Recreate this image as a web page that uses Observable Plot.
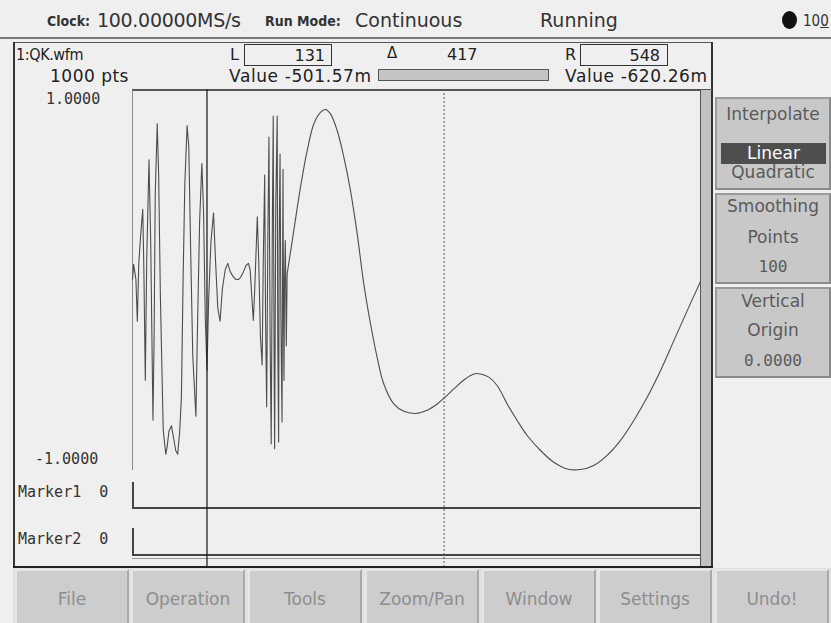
<!DOCTYPE html>
<html><head><meta charset="utf-8">
<script src="https://cdn.jsdelivr.net/npm/d3@7"></script>
<script src="https://cdn.jsdelivr.net/npm/@observablehq/plot@0.6"></script>
<style>
html,body{margin:0;padding:0}
body{width:831px;height:623px;overflow:hidden;position:relative;background:#efefef;font-family:"DejaVu Sans",sans-serif;color:#222}
.a{position:absolute;white-space:nowrap;line-height:1}
.ln{position:absolute}
.btn{position:absolute;box-sizing:border-box;background:#cdcdcd;border:2px solid;border-color:#e6e6e6 #a9a9a9 #a9a9a9 #e6e6e6;color:#8e8e8e;font-size:17px;text-align:center;line-height:1}
.side{position:absolute;box-sizing:border-box;background:#c8c8c8;border:2px solid;border-color:#9a9a9a #8a8a8a #8a8a8a #9a9a9a;color:#5a5a5a;font-size:17px;text-align:center;line-height:1}
</style></head><body>
<div id="ui"></div>
<div id="chart" style="position:absolute;left:132px;top:89px;width:568px;height:477px"></div>
<script>
// ---- data ----
const fastIndex = [0,2,4.5,6,8.5,11,14,18,20,22.5,25,29,32,36,38,40,43.5,46,49,54,58.5,61,64,68.5,72,76,79.5,83,86,89,92,96,99,102,106,111.5,114,118,122,125,128,131,134,138,142.5,146,150,154,158,163,167.5,172,177,182,186,190,195,200,204,207,210,212.5,215,219.5,222,225,228,230,232.5,234,236,238,240,242,244,246,247.5,249,250,252,254.5,255.5,257,258,259.5,261,263,264,264.7,265.5,266.4,267.5,268.8,270.5,272];
const fastValue = [0,0.08,0.03,0,-0.22,0.08,0.22,0.37,0.05,-0.53,0.1,0.63,0.2,-0.74,-0.3,0.45,0.82,0.55,-0.08,-0.79,-0.92,-0.88,-0.8,-0.77,-0.83,-0.9,-0.92,-0.8,-0.62,0,0.5,0.81,0.7,0.2,-0.4,-0.72,-0.3,0.3,0.61,0.35,-0.2,-0.48,-0.1,0.2,0.35,0.1,-0.15,-0.22,-0.05,0.05,0.085,0.04,0.015,0,0,0.01,0.04,0.075,0.085,0.05,-0.1,-0.215,-0.05,0.33,0.1,-0.3,-0.45,0.1,0.55,-0.2,-0.67,0.2,0.75,-0.3,-0.865,0.3,0.86,-0.4,-0.89,0.4,0.86,-0.3,-0.855,0.2,0.66,-0.2,-0.75,0.1,0.58,-0.1,-0.53,0,0.205,-0.35,0.03];
const smoothIndex = [272,283.7,295.5,307.2,319,330.6,339.4,348.2,360,371.7,383.4,395.2,406.8,418.6,430.3,442,459.6,477.2,497.7,518.3,535.9,547.6,565.2,582.8,600.3,612,626.6,641.3,659,676.6,694.2,717.6,741,764.5,788,811.3,834.8,858.3,881.7,905.2,928.6,952,975.5,999];
const smoothValue = [0.03,0.258,0.486,0.678,0.82,0.88,0.895,0.872,0.784,0.644,0.468,0.24,-0.023,-0.233,-0.41,-0.55,-0.655,-0.694,-0.705,-0.688,-0.655,-0.625,-0.576,-0.529,-0.497,-0.497,-0.514,-0.558,-0.655,-0.742,-0.821,-0.9,-0.962,-0.997,-1.0,-0.979,-0.926,-0.847,-0.742,-0.62,-0.48,-0.323,-0.165,-0.01];
const cursorNames = ["L","R"];
const cursorIndex = [131, 548];
const cursorValueText = ["-501.57m","-620.26m"];
const cursorDelta = 417;
const yTickLabels = ["1.0000","-1.0000"];
const markerLabels = ["Marker1  0","Marker2  0"];
const waveName = "1:QK.wfm";
const pointCount = "1000 pts";
const statusItems = ["Clock:","100.00000MS/s","Run Mode:","Continuous","Running","100"];
const menuLabels = ["File","Operation","Tools","Zoom/Pan","Window","Settings","Undo!"];
const interpOptions = ["Linear","Quadratic"];

// ---- UI chrome ----
const ui = document.getElementById("ui");
function el(cls, css, text){const d=document.createElement("div");d.className=cls;d.style.cssText=css;if(text!=null)d.textContent=text;ui.appendChild(d);return d;}
function line(x,y,w,h,c){return el("ln",`left:${x}px;top:${y}px;width:${w}px;height:${h}px;background:${c}`);}
function txt(x,base,size,text,extra=""){return el("a",`left:${x}px;top:${(base-0.846*size).toFixed(1)}px;font-size:${size}px;${extra}`,text);}

// top status bar
txt(47,26,14,statusItems[0],"font-weight:bold;font-stretch:condensed;color:#333");
txt(97,27,19,statusItems[1],"color:#333;letter-spacing:-0.3px");
txt(265,26,14,statusItems[2],"font-weight:bold;font-stretch:condensed;color:#333");
txt(355,27,19,statusItems[3],"color:#333");
txt(540,27,19,statusItems[4],"color:#333");
el("ln","left:782px;top:11px;width:15px;height:18px;border-radius:50%;background:#111");
const hund = txt(803,27,15,"","font-stretch:condensed;color:#333");
hund.innerHTML=statusItems[5].slice(0,2)+'<span style="text-decoration:underline">'+statusItems[5].slice(2)+'</span>';
line(0,37,831,2,"#777");

// main frame
line(13,42,700,1,"#555");
line(13,42,2,525,"#333");
line(711,42,2,525,"#333");
line(13,566,700,2,"#222");
// header
txt(16,60,16,waveName,"font-stretch:condensed;letter-spacing:-0.4px");
txt(50,82,17,pointCount,"letter-spacing:0.5px");
txt(46,105,15,yTickLabels[0],"font-family:'DejaVu Sans Mono',monospace;color:#333");
txt(35,465,15,yTickLabels[1],"font-family:'DejaVu Sans Mono',monospace;color:#333");
txt(18,498,15,markerLabels[0],"font-family:'DejaVu Sans Mono',monospace;color:#333;white-space:pre");
txt(18,545,15,markerLabels[1],"font-family:'DejaVu Sans Mono',monospace;color:#333;white-space:pre");

// cursor boxes
txt(230,60,16,cursorNames[0]);
el("a","left:244px;top:44px;width:86px;height:20px;border:1px solid #333;box-sizing:content-box");
txt(270,61,16,String(cursorIndex[0]),"width:55px;text-align:right");
txt(387,59,15,"Δ");
txt(447,60,16,String(cursorDelta));
txt(565,60,16,cursorNames[1]);
el("a","left:580px;top:44px;width:86px;height:20px;border:1px solid #333;box-sizing:content-box");
txt(605,61,16,String(cursorIndex[1]),"width:55px;text-align:right");
txt(229,82,17,"Value "+cursorValueText[0],"letter-spacing:0.6px");
el("a","left:378px;top:69px;width:169px;height:10px;background:#c4c4c4;border:1px solid #555");
txt(565,82,17,"Value "+cursorValueText[1],"letter-spacing:0.6px");

// graph frame
line(132,89,580,2,"#555");
line(132,90,1,380,"#8a8a8a");
line(700,90,11,476,"#c2c2c2");
line(700,90,1,476,"#555");
// marker rows
line(132,482,2,27,"#444");
line(132,507,568,2,"#444");
line(132,528,2,28,"#444");
line(132,554,568,2,"#444");
line(132,558,568,1,"#9a9a9a");

// right side panel
el("side","left:715px;top:97px;width:116px;height:93px");
txt(716,120,17,"Interpolate","width:114px;text-align:center;color:#5a5a5a");
el("ln","left:721px;top:143px;width:105px;height:21px;background:#4e4e4e");
txt(721,159,17,interpOptions[0],"width:105px;text-align:center;color:#fff");
txt(716,178,17,interpOptions[1],"width:114px;text-align:center;color:#5a5a5a");
el("side","left:715px;top:193px;width:116px;height:91px");
txt(716,212,17,"Smoothing","width:114px;text-align:center;color:#5a5a5a");
txt(716,243,17,"Points","width:114px;text-align:center;color:#5a5a5a");
txt(716,272,16,"100","width:114px;text-align:center;color:#5a5a5a;font-family:'DejaVu Sans Mono',monospace");
el("side","left:715px;top:287px;width:116px;height:91px");
txt(716,307,17,"Vertical","width:114px;text-align:center;color:#5a5a5a");
txt(716,336,17,"Origin","width:114px;text-align:center;color:#5a5a5a");
txt(716,366,16,"0.0000","width:114px;text-align:center;color:#5a5a5a;font-family:'DejaVu Sans Mono',monospace");

// bottom menu bar
line(13,568,818,55,"#e2e2e2");
const bx=[15,131,248,365,482,598,715];
menuLabels.forEach((m,k)=>{
  el("btn",`left:${bx[k]}px;top:569px;width:114px;height:56px`);
  txt(bx[k],605,17,m,"width:114px;text-align:center;color:#8e8e8e");
});

// ---- chart ----
const fast = fastIndex.map((i,k)=>({i, v: fastValue[k]}));
const smooth = smoothIndex.map((i,k)=>({i, v: smoothValue[k]}));
const plot = Plot.plot({
  width: 568, height: 477,
  marginTop: 0, marginRight: 0, marginBottom: 0, marginLeft: 0,
  x: {domain: [0, 999], axis: null},
  y: {domain: [-1, 1], range: [380, 0], axis: null},
  style: {background: "transparent", overflow: "visible"},
  marks: [
    Plot.line(fast, {x: "i", y: "v", stroke: "#4d4d4d", strokeWidth: 1.1}),
    Plot.line(smooth, {x: "i", y: "v", curve: "catmull-rom", stroke: "#4d4d4d", strokeWidth: 1.1}),
    Plot.ruleX([cursorIndex[0]], {stroke: "#222", strokeWidth: 1.3}),
    Plot.ruleX([cursorIndex[1]], {stroke: "#555", strokeWidth: 1, strokeDasharray: "2,2"})
  ]
});
document.getElementById("chart").appendChild(plot);
</script></body></html>
